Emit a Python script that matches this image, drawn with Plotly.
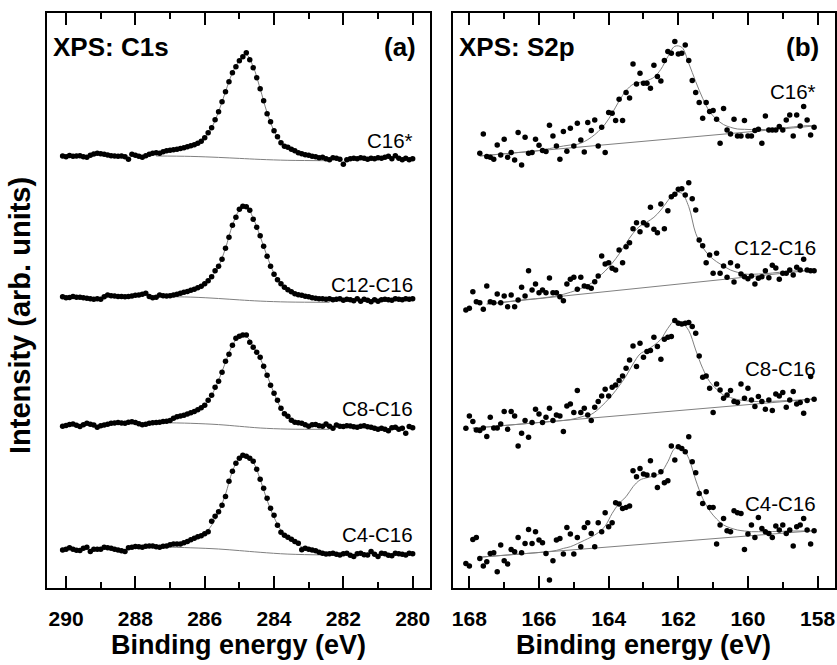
import plotly.graph_objects as go

# ---------------- energy grids (eV) ----------------
E_C1S = [290.1, 290.0, 289.9, 289.8, 289.7, 289.6, 289.5, 289.4, 289.3, 289.2,
         289.1, 289.0, 288.9, 288.8, 288.7, 288.6, 288.5, 288.4, 288.3, 288.2,
         288.1, 288.0, 287.9, 287.8, 287.7, 287.6, 287.5, 287.4, 287.3, 287.2,
         287.1, 287.0, 286.9, 286.8, 286.7, 286.6, 286.5, 286.4, 286.3, 286.2,
         286.1, 286.0, 285.9, 285.8, 285.7, 285.6, 285.5, 285.4, 285.3, 285.2,
         285.1, 285.0, 284.9, 284.8, 284.7, 284.6, 284.5, 284.4, 284.3, 284.2,
         284.1, 284.0, 283.9, 283.8, 283.7, 283.6, 283.5, 283.4, 283.3, 283.2,
         283.1, 283.0, 282.9, 282.8, 282.7, 282.6, 282.5, 282.4, 282.3, 282.2,
         282.1, 282.0, 281.9, 281.8, 281.7, 281.6, 281.5, 281.4, 281.3, 281.2,
         281.1, 281.0, 280.9, 280.8, 280.7, 280.6, 280.5, 280.4, 280.3, 280.2,
         280.1, 280.0]
E_C1S_FIT = [287.4, 287.2, 287.0, 286.8, 286.6, 286.4, 286.2, 286.0, 285.8, 285.6,
             285.4, 285.2, 285.0, 284.8, 284.6, 284.4, 284.2, 284.0, 283.8, 283.6,
             283.4, 283.2, 283.0, 282.8, 282.6, 282.4]
E_C1S_BG = [287.4, 286.4, 285.6, 285.0, 284.4, 283.6, 282.4]

E_S2P = [168.1, 168.0, 167.9, 167.8, 167.7, 167.6, 167.5, 167.4, 167.3, 167.2,
         167.1, 167.0, 166.9, 166.8, 166.7, 166.6, 166.5, 166.4, 166.3, 166.2,
         166.1, 166.0, 165.9, 165.8, 165.7, 165.6, 165.5, 165.4, 165.3, 165.2,
         165.1, 165.0, 164.9, 164.8, 164.7, 164.6, 164.5, 164.4, 164.3, 164.2,
         164.1, 164.0, 163.9, 163.8, 163.7, 163.6, 163.5, 163.4, 163.3, 163.2,
         163.1, 163.0, 162.9, 162.8, 162.7, 162.6, 162.5, 162.4, 162.3, 162.2,
         162.1, 162.0, 161.9, 161.8, 161.7, 161.6, 161.5, 161.4, 161.3, 161.2,
         161.1, 161.0, 160.9, 160.8, 160.7, 160.6, 160.5, 160.4, 160.3, 160.2,
         160.1, 160.0, 159.9, 159.8, 159.7, 159.6, 159.5, 159.4, 159.3, 159.2,
         159.1, 159.0, 158.9, 158.8, 158.7, 158.6, 158.5, 158.4, 158.3, 158.2,
         158.1]
E_S2P_FIT = [167.9, 167.7, 167.5, 167.3, 167.1, 166.9, 166.7, 166.5, 166.3, 166.1,
             165.9, 165.7, 165.5, 165.3, 165.1, 164.9, 164.7, 164.5, 164.3, 164.1,
             163.9, 163.7, 163.5, 163.3, 163.1, 162.9, 162.7, 162.5, 162.3, 162.1,
             161.9, 161.7, 161.5, 161.3, 161.1, 160.9, 160.7, 160.5, 160.3, 160.1,
             159.9, 159.7, 159.5, 159.3, 159.1, 158.9, 158.7, 158.5, 158.3, 158.1]

SAMPLES = ["C16*", "C12-C16", "C8-C16", "C4-C16"]

# vertical offsets of the stacked spectra (arb. units)
C1S_OFFSET = [429.3, 288.7, 159.7, 34.7]
S2P_OFFSET = [424.7, 268.0, 154.7, 21.3]

# ---------------- C1s measured intensities ----------------
C1S_C16 = [2.7, 2.0, 3.3, 2.5, 2.7, 3.0, 2.0, 1.5, 3.5, 4.7,
           5.5, 5.0, 4.5, 3.7, 3.0, 2.7, 2.5, 2.7, 2.0, -0.5,
           4.5, 3.5, 2.5, 1.5, 3.0, 4.5, 5.5, 6.0, 5.5, 7.0,
           8.0, 8.5, 9.0, 9.5, 10.3, 11.0, 12.0, 13.0, 14.0, 15.5,
           17.5, 21.0, 26.0, 31.0, 39.0, 47.0, 57.0, 67.0, 77.0, 86.0,
           92.0, 98.0, 102.0, 106.0, 99.0, 91.0, 81.0, 70.0, 58.0, 45.0,
           37.0, 28.0, 22.0, 16.0, 12.5, 11.5, 9.5, 8.0, 6.0, 5.0,
           4.0, 3.5, 2.5, 2.0, 1.0, 1.5, 0.0, -1.0, 1.0, 0.5,
           -0.5, -5.5, -1.0, 0.0, 0.5, 0.0, 1.0, 0.5, -0.5, 0.5,
           0.0, 1.0, 0.5, 1.5, 2.5, 0.0, 3.0, 0.5, -1.0, 0.5,
           -1.0, 0.0]
C1S_C12 = [2.5, 1.5, 1.8, 2.7, 2.0, 2.0, 1.5, 1.0, 0.5, 0.0,
           0.5, 0.0, 2.5, 4.3, 3.5, 3.3, 2.7, 2.7, 2.5, 2.7,
           3.3, 4.0, 4.3, 5.0, 6.0, 2.7, 1.5, 2.0, 4.3, 3.5,
           3.3, 3.5, 4.3, 5.0, 6.0, 7.0, 7.7, 9.0, 10.0, 11.5,
           13.0, 15.5, 18.5, 22.5, 28.5, 33.0, 40.0, 51.0, 62.0, 74.0,
           82.0, 90.0, 93.0, 92.5, 89.0, 80.0, 72.0, 63.5, 53.0, 43.0,
           33.0, 25.0, 19.5, 15.5, 12.0, 9.5, 7.5, 5.5, 4.5, 4.0,
           3.0, 2.5, 1.5, 1.0, 0.5, 0.5, 0.0, 0.5, -0.5, 0.0,
           0.5, -1.0, 0.0, -0.5, -1.5, 0.5, -2.0, 0.0, -1.0, -2.5,
           -0.5, -2.0, -0.5, 0.0, -0.5, -1.0, 0.5, 0.0, -0.5, 0.5,
           0.0, 0.5]
C1S_C8 = [2.0, 2.7, 3.7, 4.3, 3.0, 1.7, 3.5, 5.0, 4.0, 3.3,
          1.0, 2.5, 3.3, 4.0, 5.0, 5.3, 5.7, 5.3, 5.0, 6.0,
          6.5, 5.7, 4.5, 3.5, 4.0, 5.0, 5.5, 5.7, 6.0, 6.7,
          7.0, 7.7, 10.0, 11.5, 12.3, 13.0, 14.3, 15.5, 16.7, 18.5,
          20.5, 23.0, 28.0, 33.0, 41.0, 47.0, 56.0, 67.0, 74.0, 83.0,
          90.0, 92.0, 93.3, 93.3, 86.0, 81.0, 76.0, 71.0, 62.0, 53.0,
          43.0, 35.0, 28.0, 20.0, 14.5, 12.0, 8.0, 6.0, 5.5, 5.0,
          3.5, 2.0, 3.5, 3.7, 2.5, 2.0, 4.3, 2.0, 0.0, 3.3,
          2.0, 1.7, 2.5, 2.3, 1.5, 1.0, 2.0, 2.5, 1.5, 1.0,
          0.0, -1.0, 0.0, -1.0, -2.5, 0.5, 1.0, -1.0, 0.0, -5.0,
          1.7, 0.5]
C1S_C4 = [3.3, 4.0, 5.5, 4.0, 3.0, 2.7, 5.0, 6.0, 1.7, 4.0,
          4.0, 4.0, 6.0, 5.5, 5.0, 4.0, 3.3, 2.5, 1.7, 5.5,
          6.0, 6.7, 6.5, 6.0, 7.0, 7.3, 7.3, 6.5, 6.0, 7.0,
          7.3, 8.5, 9.3, 9.3, 9.3, 10.5, 11.7, 13.5, 15.0, 16.5,
          17.5, 19.5, 21.5, 32.0, 37.0, 41.5, 48.0, 56.7, 72.0, 82.0,
          90.0, 95.0, 98.0, 97.0, 95.0, 92.0, 84.0, 74.0, 65.0, 55.0,
          45.0, 38.0, 28.0, 21.0, 18.0, 16.0, 14.0, 11.7, 10.0, 3.5,
          5.0, 4.0, 3.3, 2.5, 1.0, 0.0, -0.7, -0.5, 0.0, -1.0,
          -1.7, -0.5, 0.0, -2.0, -3.3, -0.5, 0.0, -1.5, -1.7, 1.7,
          -1.0, -3.3, 0.0, -0.5, -2.0, -2.5, 0.0, -0.5, -1.0, -1.7,
          0.0, -0.5]

# C1s fitted envelopes and backgrounds
C1S_FIT_C16 = [4.5, 6.0, 7.5, 9.0, 11.0, 13.0, 16.0, 21.0, 31.0, 47.0, 67.0, 86.0, 98.0,
               104.0, 92.0, 70.0, 46.0, 28.0, 17.0, 11.0, 7.5, 5.0, 3.0, 1.5, 0.5, 0.0]
C1S_FIT_C12 = [3.0, 3.5, 4.0, 5.0, 6.5, 8.5, 11.5, 15.5, 22.5, 33.0, 51.0, 74.0, 89.0,
               93.0, 81.0, 63.0, 43.0, 26.0, 15.5, 9.5, 6.0, 4.0, 2.5, 1.0, 0.5, 0.0]
C1S_FIT_C8 = [5.7, 6.5, 8.0, 10.5, 13.0, 15.5, 18.5, 23.0, 33.0, 48.0, 66.0, 83.0, 92.0,
              92.0, 82.0, 70.0, 53.0, 35.0, 20.0, 11.0, 6.5, 4.5, 3.0, 2.5, 2.0, 2.0]
C1S_FIT_C4 = [6.5, 7.0, 8.0, 9.0, 10.5, 13.0, 16.0, 20.0, 28.0, 41.0, 59.0, 82.0, 95.0,
              97.0, 91.0, 74.0, 53.0, 36.0, 23.0, 16.0, 11.0, 6.5, 4.0, 2.5, 0.5, -0.5]
C1S_BG_C16 = [2.7, 2.3, 1.3, 0.3, -0.7, -1.6, -2.0]
C1S_BG_C12 = [2.7, 2.2, 0.8, -0.6, -1.8, -2.7, -3.0]
C1S_BG_C8 = [5.7, 5.0, 3.7, 2.0, 0.3, -0.8, -1.0]
C1S_BG_C4 = [6.5, 5.5, 4.3, 2.7, 1.0, -0.8, -1.7]

# ---------------- S2p measured intensities ----------------
S2P_C16 = [10, 29.3, 6.7, 6, 4, 18.3, 8.3, 24, 6, 10.7,
           3.3, 30.7, -1.7, 26, 10, 10.7, 24, 18, 12.7, 11.7,
           38, 27.3, 17.3, 4, 31.7, 12, 35, 17.3, 40, 23.3,
           11.3, 40.7, 32.7, 43.3, 17.3, 36, 10.7, 50.7, 50, 42.7,
           64, 42.7, 70.7, 65.3, 99.3, 79.3, 90, 80, 80, 75,
           98, 86.7, 82.3, 102.7, 111.7, 110, 121.7, 109.3, 110, 118.3,
           102.7, 82.7, 70.7, 60.7, 45, 60.7, 51.7, 52.7, 44, 20,
           54.7, 33.3, 29.3, 44, 27.3, 27.3, 42.7, 27.3, 27.3, 32.7,
           34, 20, 47.3, 33.3, 33.3, 33.3, 36.7, 33.3, 43.3, 48.3,
           27.3, 48.3, 37.3, 56.7, 43.3, 28.3, 36]
S2P_C12 = [10, 11.7, 28.3, 18.3, 17.3, 10.7, 34, 18.3, 17.3, 26,
           17.3, 24, 13.3, 25, 13.3, 20, 32.7, 24, 49.3, 30,
           36, 27.3, 30, 27.3, 42, 27.3, 27.3, 23.3, 19.3, 36,
           40.7, 42.7, 30.7, 42.7, 34, 33.3, 31.7, 38.3, 44, 64,
           56, 57.3, 51.7, 50, 70, 57.3, 73.3, 77.3, 91.3, 97.3,
           88.3, 97.3, 95, 112.7, 90.7, 87.3, 116, 91.3, 109.3, 123.3,
           125.7, 130.7, 131.3, 125, 137.3, 121.3, 110, 80, 74.3, 57.3,
           65, 46.7, 66.7, 46.7, 54, 42.7, 57.3, 38, 54, 46,
           43.3, 41.3, 44, 36, 41.7, 43.3, 49.3, 42.3, 54.7, 52,
           40.7, 46.7, 46.7, 50, 45, 52.7, 50, 60.7, 50, 49.3,
           49.3]
S2P_C8 = [5, 17.3, 11.7, 3.3, 2.7, 5.3, -3.3, 16, 5.3, 5.3,
          9.3, 21.7, 4, 21.7, 17.3, -12.7, 0, 12.7, -4, 10.7,
          24, 19.3, 10.7, 16, 25, 12.7, 18.3, 17.3, 1.7, 27.3,
          29.3, 20.7, 42.7, 20.7, 25, 18.3, 12.7, 26, 31.7, 37.3,
          44, 37.3, 46, 48.3, 52.7, 57.3, 65, 73.3, 87.3, 66.7,
          90, 76, 81.7, 82.7, 96, 86.7, 74, 94, 96, 96.7,
          112.7, 110, 109.3, 110, 110.7, 106.7, 100, 77.3, 56, 57.3,
          45, 20.7, 49.3, 43.3, 35, 38.3, 42.7, 31.7, 30.7, 49.3,
          35, 45, 33.3, 26.7, 36.7, 31.7, 24, 33.3, 22.7, 39.3,
          37.3, 40.7, 26, 33.3, 41.7, 29.3, 30.7, 20, 32.7, 56.7,
          34]
S2P_C4 = [3.3, 0.7, 27.3, 29.3, 8.3, 0.7, 5, 13.3, 14, -5,
          21.7, 6, 2.7, 17.3, 15, 29.3, 14, 23.3, 37.3, 23.3,
          35, 26.7, 24, 13.3, -13.3, 6, 26.7, 28.3, 12.7, 39.3,
          32.7, 12.7, 29.3, 20, 39.3, 44, 33.3, 20, 44, 35,
          54, 40, 44, 64, 62.7, 58.3, 59.3, 60.7, 96, 90,
          98.3, 92.7, 91.7, 106, 91.7, 79.3, 95, 84, 86, 120.7,
          106.7, 120, 118.3, 115, 130, 105, 94, 73.3, 63.3, 75,
          59.3, 59.3, 22.7, 41.7, 48.3, 36, 35, 56, 54, 53.3,
          17.3, 32.7, 41.7, 29.3, 49.3, 38.3, 35, 33.3, 29.3, 40.7,
          36.7, 41.7, 33.3, 36.7, 20.7, 40, 41.7, 48.3, 36.7, 22.7,
          36]

# S2p fitted envelopes (on E_S2P_FIT, starting index per spectrum)
S2P_FIT_C16 = [7.3, 8.0, 8.6, 9.2, 9.8, 10.5, 11.1, 11.7, 12.3, 13.3,
               14.7, 16.0, 17.3, 18.3, 19.0, 21.7, 26.0, 31.7, 39.3, 50.0,
               62.3, 72.7, 79.0, 81.0, 82.7, 86.0, 94.0, 106.7, 117.0, 116.0,
               100.0, 81.7, 65.0, 51.7, 44.0, 38.7, 36.0, 34.3, 34.0, 33.7,
               33.7, 33.8, 34.5, 35.1, 35.7, 36.4, 37.0, 37.7, 37.3]
S2P_FIT_C12 = [16, 16.7, 17.3, 18.3, 19.3, 20, 20.7, 21.3, 22, 23,
               24, 25.7, 27.7, 30, 33, 36.7, 42.7, 49, 56.7, 66,
               76.7, 86.7, 94, 98, 102.7, 110, 119.3, 127.3, 126.7, 113.3,
               86.7, 72.7, 64, 58.3, 54, 50, 47.7, 46, 45.7, 46,
               46.3, 47, 47.7, 48.3, 49, 49.3, 49.7, 50]
S2P_FIT_C8 = [5.1, 5.7, 6.3, 6.9, 7.5, 8.1, 8.7, 9.3, 9.9, 10.5,
              11.1, 11.7, 12.2, 12.8, 13.7, 15.3, 17.3, 19.0, 24.0, 30.7,
              38.3, 47.3, 57.3, 69.3, 79.3, 83.3, 88.0, 94.0, 105.0, 112.7,
              110.7, 102.7, 83.3, 65.0, 51.7, 44.0, 38.3, 35.7, 33.7, 32.7,
              32.0, 31.7, 31.7, 32.0, 32.3, 32.7, 33.0, 33.3, 33.8, 34.3]
S2P_FIT_C4 = [9.5, 10.1, 10.6, 11.2, 11.7, 12.3, 12.8, 13.4, 13.9, 14.5,
              15.2, 16.3, 18.3, 20.0, 23.0, 26.3, 29.7, 34.0, 40.7, 53.3,
              63.3, 70.0, 80.0, 86.7, 89.0, 90.7, 94.0, 105.0, 118.3, 119.3,
              108.3, 86.7, 68.3, 56.0, 47.7, 41.7, 38.7, 36.7, 35.7, 35.0,
              35.0, 35.0, 35.2, 35.3, 35.5, 35.7, 35.7, 35.8, 36.0]
# linear backgrounds: energies and values at both ends
S2P_BG_E = [[167.7, 158.1], [167.5, 158.1], [167.9, 158.1], [167.7, 158.1]]
S2P_BG_V = [[7.3, 37.3], [16.0, 50.0], [5.1, 34.3], [9.5, 36.0]]

# ---------------- figure ----------------
W, H = 837, 665
MT, MB = 13, 77
PH = H - MT - MB

def px(x):
    return x / W

def py(y):
    return (H - MB - y) / PH

DOT = "#000000"
LINE = "#808080"
FONT = "Liberation Sans, Arial, sans-serif"

fig = go.Figure()

def add_spectrum(xa, ya, e_data, vals, e_fit, fit, e_bg, bg, off):
    fig.add_trace(go.Scatter(x=e_bg, y=[off + v for v in bg], mode="lines",
                             line=dict(color=LINE, width=1, shape="spline"),
                             xaxis=xa, yaxis=ya, showlegend=False, hoverinfo="skip"))
    fig.add_trace(go.Scatter(x=e_fit, y=[off + v for v in fit], mode="lines",
                             line=dict(color=LINE, width=1, shape="spline"),
                             xaxis=xa, yaxis=ya, showlegend=False, hoverinfo="skip"))
    fig.add_trace(go.Scatter(x=e_data, y=[off + v for v in vals], mode="markers",
                             marker=dict(color=DOT, size=5.5),
                             xaxis=xa, yaxis=ya, showlegend=False))

c1s_data = [C1S_C16, C1S_C12, C1S_C8, C1S_C4]
c1s_fit = [C1S_FIT_C16, C1S_FIT_C12, C1S_FIT_C8, C1S_FIT_C4]
c1s_bg = [C1S_BG_C16, C1S_BG_C12, C1S_BG_C8, C1S_BG_C4]
for i in range(4):
    add_spectrum("x", "y", E_C1S, c1s_data[i], E_C1S_FIT, c1s_fit[i],
                 E_C1S_BG, c1s_bg[i], C1S_OFFSET[i])

s2p_data = [S2P_C16, S2P_C12, S2P_C8, S2P_C4]
s2p_data_start = [4, 0, 0, 0]
s2p_fit = [S2P_FIT_C16, S2P_FIT_C12, S2P_FIT_C8, S2P_FIT_C4]
s2p_fit_start = [1, 2, 0, 1]
for i in range(4):
    add_spectrum("x2", "y2", E_S2P[s2p_data_start[i]:], s2p_data[i],
                 E_S2P_FIT[s2p_fit_start[i]:], s2p_fit[i],
                 S2P_BG_E[i], S2P_BG_V[i], S2P_OFFSET[i])

tickfont = dict(family=FONT, size=21, color="black", weight="bold")
common_x = dict(ticks="inside", ticklen=12, tickwidth=2, tickcolor="black",
                dtick=2, showline=True, linewidth=2, linecolor="black",
                mirror="ticks", showgrid=False, zeroline=False,
                tickfont=tickfont, ticklabelstandoff=11,
                minor=dict(ticks="inside", ticklen=6, tickwidth=2, dtick=1,
                           tickcolor="black", showgrid=False))
common_y = dict(range=[0, PH], showticklabels=False, ticks="", showline=True,
                linewidth=2, linecolor="black", mirror=True, showgrid=False,
                zeroline=False, domain=[0, 1])

fig.update_layout(
    width=W, height=H,
    margin=dict(l=0, r=0, t=MT, b=MB),
    paper_bgcolor="white", plot_bgcolor="white",
    xaxis=dict(domain=[px(47), px(430)], range=[290.55, 279.5], tick0=280,
               anchor="y", **common_x),
    yaxis=dict(anchor="x", **common_y),
    xaxis2=dict(domain=[px(453), px(835)], range=[168.47, 157.5], tick0=158,
                anchor="y2", **common_x),
    yaxis2=dict(anchor="x2", **common_y),
)

ann = []
label_font = dict(family=FONT, size=20.5, color="black")
c1s_label_y = [448, 304, 180, 54]
s2p_label_y = [497, 341, 220, 85]
for i, s in enumerate(SAMPLES):
    ann.append(dict(x=279.94, y=c1s_label_y[i], xref="x", yref="y", text=s,
                    showarrow=False, xanchor="right", yanchor="middle", font=label_font))
    ann.append(dict(x=158.0, y=s2p_label_y[i], xref="x2", yref="y2", text=s,
                    showarrow=False, xanchor="right", yanchor="middle", font=label_font))

title_font = dict(family=FONT, size=26, color="black", weight="bold")
ann += [
    dict(x=px(51), y=py(47), xref="paper", yref="paper", text="XPS: C1s",
         showarrow=False, xanchor="left", yanchor="middle", font=title_font),
    dict(x=px(418), y=py(47), xref="paper", yref="paper", text="(a)",
         showarrow=False, xanchor="right", yanchor="middle", font=title_font),
    dict(x=px(457), y=py(47), xref="paper", yref="paper", text="XPS: S2p",
         showarrow=False, xanchor="left", yanchor="middle", font=title_font),
    dict(x=px(821), y=py(47), xref="paper", yref="paper", text="(b)",
         showarrow=False, xanchor="right", yanchor="middle", font=title_font),
    dict(x=px(238.5), y=py(645), xref="paper", yref="paper", text="Binding energy (eV)",
         showarrow=False, xanchor="center", yanchor="middle",
         font=dict(family=FONT, size=27, color="black", weight="bold")),
    dict(x=px(643), y=py(645), xref="paper", yref="paper", text="Binding energy (eV)",
         showarrow=False, xanchor="center", yanchor="middle",
         font=dict(family=FONT, size=27, color="black", weight="bold")),
    dict(x=px(20), y=py(316), xref="paper", yref="paper", text="Intensity (arb. units)",
         showarrow=False, xanchor="center", yanchor="middle", textangle=-90,
         font=dict(family=FONT, size=29, color="black", weight="bold")),
]
fig.update_layout(annotations=ann)

fig.write_html("out.html")
